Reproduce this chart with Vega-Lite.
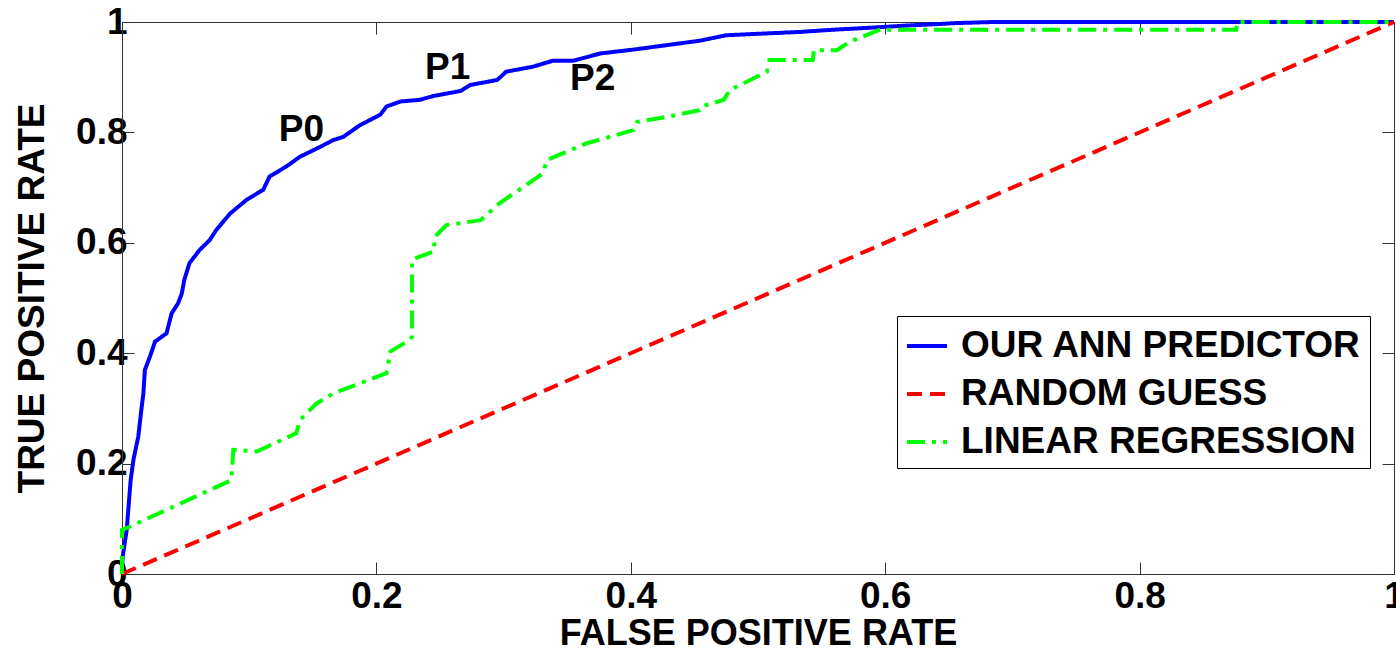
{
  "$schema": "https://vega.github.io/schema/vega-lite/v6.json",
  "width": 1272,
  "height": 552,
  "autosize": {"type": "none"},
  "padding": {"left": 122, "top": 22, "right": 2, "bottom": 79},
  "background": "white",
  "config": {
    "view": {"stroke": "#333333", "strokeWidth": 1},
    "axis": {
      "grid": false,
      "domainColor": "#333333",
      "tickColor": "#333333",
      "tickSize": -12,
      "tickWidth": 1,
      "labelFont": "Liberation Sans",
      "labelFontSize": 37,
      "labelFontWeight": "bold",
      "labelColor": "black",
      "labelFlush": false,
      "labelOverlap": false,
      "titleFont": "Liberation Sans",
      "titleFontWeight": "bold",
      "titleColor": "black"
    },
    "legend": {
      "orient": "none",
      "legendX": 775,
      "legendY": 294,
      "strokeColor": "black",
      "fillColor": "white",
      "padding": 8,
      "labelFont": "Liberation Sans",
      "labelFontSize": 37,
      "labelFontWeight": "bold",
      "labelColor": "black",
      "labelLimit": 1000,
      "symbolType": "stroke",
      "symbolSize": 1600,
      "symbolStrokeWidth": 4,
      "rowPadding": 8,
      "labelOffset": 12,
      "title": null
    }
  },
  "layer": [
    {
      "data": {
        "values": [
          {"series": "OUR ANN PREDICTOR", "k": 0, "fpr": 0, "tpr": 0},
          {"series": "OUR ANN PREDICTOR", "k": 1, "fpr": 0.0005, "tpr": 0.031},
          {"series": "OUR ANN PREDICTOR", "k": 2, "fpr": 0.0037, "tpr": 0.08},
          {"series": "OUR ANN PREDICTOR", "k": 3, "fpr": 0.0068, "tpr": 0.17},
          {"series": "OUR ANN PREDICTOR", "k": 4, "fpr": 0.009, "tpr": 0.207},
          {"series": "OUR ANN PREDICTOR", "k": 5, "fpr": 0.0128, "tpr": 0.249},
          {"series": "OUR ANN PREDICTOR", "k": 6, "fpr": 0.0155, "tpr": 0.303},
          {"series": "OUR ANN PREDICTOR", "k": 7, "fpr": 0.0168, "tpr": 0.327},
          {"series": "OUR ANN PREDICTOR", "k": 8, "fpr": 0.018, "tpr": 0.37},
          {"series": "OUR ANN PREDICTOR", "k": 9, "fpr": 0.022, "tpr": 0.394},
          {"series": "OUR ANN PREDICTOR", "k": 10, "fpr": 0.026, "tpr": 0.421},
          {"series": "OUR ANN PREDICTOR", "k": 11, "fpr": 0.035, "tpr": 0.436},
          {"series": "OUR ANN PREDICTOR", "k": 12, "fpr": 0.039, "tpr": 0.472},
          {"series": "OUR ANN PREDICTOR", "k": 13, "fpr": 0.044, "tpr": 0.49},
          {"series": "OUR ANN PREDICTOR", "k": 14, "fpr": 0.047, "tpr": 0.508},
          {"series": "OUR ANN PREDICTOR", "k": 15, "fpr": 0.049, "tpr": 0.533},
          {"series": "OUR ANN PREDICTOR", "k": 16, "fpr": 0.053, "tpr": 0.563},
          {"series": "OUR ANN PREDICTOR", "k": 17, "fpr": 0.061, "tpr": 0.587},
          {"series": "OUR ANN PREDICTOR", "k": 18, "fpr": 0.069, "tpr": 0.605},
          {"series": "OUR ANN PREDICTOR", "k": 19, "fpr": 0.074, "tpr": 0.623},
          {"series": "OUR ANN PREDICTOR", "k": 20, "fpr": 0.085, "tpr": 0.653},
          {"series": "OUR ANN PREDICTOR", "k": 21, "fpr": 0.098, "tpr": 0.678},
          {"series": "OUR ANN PREDICTOR", "k": 22, "fpr": 0.111, "tpr": 0.696},
          {"series": "OUR ANN PREDICTOR", "k": 23, "fpr": 0.116, "tpr": 0.72},
          {"series": "OUR ANN PREDICTOR", "k": 24, "fpr": 0.129, "tpr": 0.738},
          {"series": "OUR ANN PREDICTOR", "k": 25, "fpr": 0.14, "tpr": 0.756},
          {"series": "OUR ANN PREDICTOR", "k": 26, "fpr": 0.156, "tpr": 0.774},
          {"series": "OUR ANN PREDICTOR", "k": 27, "fpr": 0.166, "tpr": 0.786},
          {"series": "OUR ANN PREDICTOR", "k": 28, "fpr": 0.174, "tpr": 0.792},
          {"series": "OUR ANN PREDICTOR", "k": 29, "fpr": 0.187, "tpr": 0.813},
          {"series": "OUR ANN PREDICTOR", "k": 30, "fpr": 0.203, "tpr": 0.832},
          {"series": "OUR ANN PREDICTOR", "k": 31, "fpr": 0.208, "tpr": 0.847},
          {"series": "OUR ANN PREDICTOR", "k": 32, "fpr": 0.219, "tpr": 0.856},
          {"series": "OUR ANN PREDICTOR", "k": 33, "fpr": 0.234, "tpr": 0.859},
          {"series": "OUR ANN PREDICTOR", "k": 34, "fpr": 0.245, "tpr": 0.866},
          {"series": "OUR ANN PREDICTOR", "k": 35, "fpr": 0.266, "tpr": 0.875},
          {"series": "OUR ANN PREDICTOR", "k": 36, "fpr": 0.274, "tpr": 0.886},
          {"series": "OUR ANN PREDICTOR", "k": 37, "fpr": 0.295, "tpr": 0.895},
          {"series": "OUR ANN PREDICTOR", "k": 38, "fpr": 0.302, "tpr": 0.91},
          {"series": "OUR ANN PREDICTOR", "k": 39, "fpr": 0.323, "tpr": 0.919},
          {"series": "OUR ANN PREDICTOR", "k": 40, "fpr": 0.339, "tpr": 0.93},
          {"series": "OUR ANN PREDICTOR", "k": 41, "fpr": 0.355, "tpr": 0.93},
          {"series": "OUR ANN PREDICTOR", "k": 42, "fpr": 0.376, "tpr": 0.943},
          {"series": "OUR ANN PREDICTOR", "k": 43, "fpr": 0.402, "tpr": 0.95},
          {"series": "OUR ANN PREDICTOR", "k": 44, "fpr": 0.428, "tpr": 0.958},
          {"series": "OUR ANN PREDICTOR", "k": 45, "fpr": 0.454, "tpr": 0.966},
          {"series": "OUR ANN PREDICTOR", "k": 46, "fpr": 0.475, "tpr": 0.976},
          {"series": "OUR ANN PREDICTOR", "k": 47, "fpr": 0.494, "tpr": 0.978},
          {"series": "OUR ANN PREDICTOR", "k": 48, "fpr": 0.533, "tpr": 0.982},
          {"series": "OUR ANN PREDICTOR", "k": 49, "fpr": 0.559, "tpr": 0.986},
          {"series": "OUR ANN PREDICTOR", "k": 50, "fpr": 0.591, "tpr": 0.99},
          {"series": "OUR ANN PREDICTOR", "k": 51, "fpr": 0.62, "tpr": 0.994},
          {"series": "OUR ANN PREDICTOR", "k": 52, "fpr": 0.64, "tpr": 0.996},
          {"series": "OUR ANN PREDICTOR", "k": 53, "fpr": 0.655, "tpr": 0.998},
          {"series": "OUR ANN PREDICTOR", "k": 54, "fpr": 0.685, "tpr": 1.0},
          {"series": "OUR ANN PREDICTOR", "k": 55, "fpr": 1.0, "tpr": 1.0},
          {"series": "RANDOM GUESS", "k": 0, "fpr": 0, "tpr": 0},
          {"series": "RANDOM GUESS", "k": 1, "fpr": 1, "tpr": 1},
          {"series": "LINEAR REGRESSION", "k": 0, "fpr": 0, "tpr": 0},
          {"series": "LINEAR REGRESSION", "k": 1, "fpr": 0, "tpr": 0.08},
          {"series": "LINEAR REGRESSION", "k": 2, "fpr": 0.0063, "tpr": 0.086},
          {"series": "LINEAR REGRESSION", "k": 3, "fpr": 0.086, "tpr": 0.17},
          {"series": "LINEAR REGRESSION", "k": 4, "fpr": 0.0875, "tpr": 0.225},
          {"series": "LINEAR REGRESSION", "k": 5, "fpr": 0.106, "tpr": 0.222},
          {"series": "LINEAR REGRESSION", "k": 6, "fpr": 0.137, "tpr": 0.255},
          {"series": "LINEAR REGRESSION", "k": 7, "fpr": 0.14, "tpr": 0.279},
          {"series": "LINEAR REGRESSION", "k": 8, "fpr": 0.153, "tpr": 0.309},
          {"series": "LINEAR REGRESSION", "k": 9, "fpr": 0.166, "tpr": 0.327},
          {"series": "LINEAR REGRESSION", "k": 10, "fpr": 0.208, "tpr": 0.364},
          {"series": "LINEAR REGRESSION", "k": 11, "fpr": 0.211, "tpr": 0.403},
          {"series": "LINEAR REGRESSION", "k": 12, "fpr": 0.226, "tpr": 0.424},
          {"series": "LINEAR REGRESSION", "k": 13, "fpr": 0.228, "tpr": 0.43},
          {"series": "LINEAR REGRESSION", "k": 14, "fpr": 0.228, "tpr": 0.569},
          {"series": "LINEAR REGRESSION", "k": 15, "fpr": 0.234, "tpr": 0.575},
          {"series": "LINEAR REGRESSION", "k": 16, "fpr": 0.245, "tpr": 0.584},
          {"series": "LINEAR REGRESSION", "k": 17, "fpr": 0.246, "tpr": 0.611},
          {"series": "LINEAR REGRESSION", "k": 18, "fpr": 0.255, "tpr": 0.632},
          {"series": "LINEAR REGRESSION", "k": 19, "fpr": 0.282, "tpr": 0.641},
          {"series": "LINEAR REGRESSION", "k": 20, "fpr": 0.297, "tpr": 0.672},
          {"series": "LINEAR REGRESSION", "k": 21, "fpr": 0.316, "tpr": 0.702},
          {"series": "LINEAR REGRESSION", "k": 22, "fpr": 0.331, "tpr": 0.726},
          {"series": "LINEAR REGRESSION", "k": 23, "fpr": 0.334, "tpr": 0.75},
          {"series": "LINEAR REGRESSION", "k": 24, "fpr": 0.365, "tpr": 0.78},
          {"series": "LINEAR REGRESSION", "k": 25, "fpr": 0.402, "tpr": 0.804},
          {"series": "LINEAR REGRESSION", "k": 26, "fpr": 0.405, "tpr": 0.819},
          {"series": "LINEAR REGRESSION", "k": 27, "fpr": 0.428, "tpr": 0.828},
          {"series": "LINEAR REGRESSION", "k": 28, "fpr": 0.454, "tpr": 0.84},
          {"series": "LINEAR REGRESSION", "k": 29, "fpr": 0.456, "tpr": 0.847},
          {"series": "LINEAR REGRESSION", "k": 30, "fpr": 0.473, "tpr": 0.859},
          {"series": "LINEAR REGRESSION", "k": 31, "fpr": 0.478, "tpr": 0.877},
          {"series": "LINEAR REGRESSION", "k": 32, "fpr": 0.507, "tpr": 0.91},
          {"series": "LINEAR REGRESSION", "k": 33, "fpr": 0.509, "tpr": 0.931},
          {"series": "LINEAR REGRESSION", "k": 34, "fpr": 0.543, "tpr": 0.931},
          {"series": "LINEAR REGRESSION", "k": 35, "fpr": 0.544, "tpr": 0.949},
          {"series": "LINEAR REGRESSION", "k": 36, "fpr": 0.562, "tpr": 0.949},
          {"series": "LINEAR REGRESSION", "k": 37, "fpr": 0.572, "tpr": 0.964},
          {"series": "LINEAR REGRESSION", "k": 38, "fpr": 0.596, "tpr": 0.986},
          {"series": "LINEAR REGRESSION", "k": 39, "fpr": 0.876, "tpr": 0.986},
          {"series": "LINEAR REGRESSION", "k": 40, "fpr": 0.877, "tpr": 1.0},
          {"series": "LINEAR REGRESSION", "k": 41, "fpr": 1.0, "tpr": 1.0}
        ]
      },
      "mark": {"type": "line", "strokeWidth": 4, "clip": false},
      "encoding": {
        "x": {
          "field": "fpr", "type": "quantitative",
          "scale": {"domain": [0, 1], "nice": false, "zero": false},
          "axis": {
            "orient": "bottom",
            "values": [0, 0.2, 0.4, 0.6, 0.8, 1],
            "labelExpr": "'' + datum.value",
            "labelPadding": 16,
            "title": "FALSE POSITIVE RATE",
            "titleFontSize": 36,
            "titlePadding": 2
          }
        },
        "y": {
          "field": "tpr", "type": "quantitative",
          "scale": {"domain": [0, 1], "nice": false, "zero": false},
          "axis": {
            "orient": "left",
            "values": [0, 0.2, 0.4, 0.6, 0.8, 1],
            "labelExpr": "'' + datum.value",
            "labelPadding": 7,
            "title": "TRUE POSITIVE RATE",
            "titleFontSize": 37,
            "titlePadding": 24
          }
        },
        "color": {
          "field": "series", "type": "nominal",
          "scale": {
            "domain": ["OUR ANN PREDICTOR", "RANDOM GUESS", "LINEAR REGRESSION"],
            "range": ["#0000ff", "#ff0000", "#00ff00"]
          }
        },
        "strokeDash": {
          "field": "series", "type": "nominal",
          "scale": {
            "domain": ["OUR ANN PREDICTOR", "RANDOM GUESS", "LINEAR REGRESSION"],
            "range": [[1, 0], [15, 8], [18, 7, 4, 7]]
          }
        },
        "order": {"field": "k", "type": "quantitative"}
      }
    },
    {
      "data": {
        "values": [
          {"label": "P0", "fpr": 0.141, "tpr": 0.804},
          {"label": "P1", "fpr": 0.256, "tpr": 0.916},
          {"label": "P2", "fpr": 0.370, "tpr": 0.897}
        ]
      },
      "mark": {
        "type": "text",
        "font": "Liberation Sans",
        "fontSize": 37,
        "fontWeight": "bold",
        "color": "black",
        "align": "center",
        "baseline": "middle"
      },
      "encoding": {
        "x": {
          "field": "fpr", "type": "quantitative",
          "axis": {
            "orient": "top",
            "values": [0, 0.2, 0.4, 0.6, 0.8, 1],
            "labels": false,
            "domain": false,
            "title": null
          }
        },
        "y": {
          "field": "tpr", "type": "quantitative",
          "axis": {
            "orient": "right",
            "values": [0, 0.2, 0.4, 0.6, 0.8, 1],
            "labels": false,
            "domain": false,
            "title": null
          }
        },
        "text": {"field": "label", "type": "nominal"}
      }
    }
  ],
  "resolve": {"axis": {"x": "independent", "y": "independent"}}
}
